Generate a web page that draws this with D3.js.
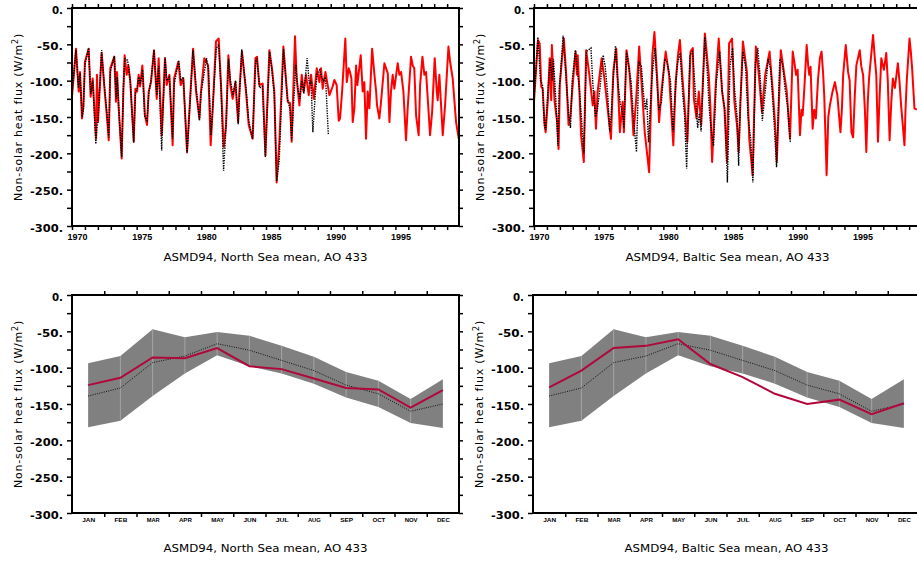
<!DOCTYPE html>
<html>
<head>
<meta charset="utf-8">
<script src="https://cdn.jsdelivr.net/npm/d3@7"></script>
<style>
body { margin: 0; background: #fff; }
</style>
</head>
<body>
<script>
// tick labels / categories
var months = ["JAN","FEB","MAR","APR","MAY","JUN","JUL","AUG","SEP","OCT","NOV","DEC"];
var yearLabels = [1970, 1975, 1980, 1985, 1990, 1995];
var fluxTicks = d3.range(0, -301, -25);

var nsRed = [
  [1970.00,-122],[1970.31,-56],[1970.52,-115],[1970.62,-88],[1970.77,-152],[1970.88,-136],[1971.00,-74],
  [1971.29,-56],[1971.44,-122],[1971.60,-97],[1971.86,-180],[1971.93,-92],[1972.01,-157],
  [1972.29,-62],[1972.53,-115],[1972.71,-152],[1972.84,-182],[1972.96,-83],
  [1973.27,-67],[1973.40,-129],[1973.48,-88],[1973.61,-138],[1973.84,-207],[1973.97,-115],
  [1974.07,-65],[1974.23,-92],[1974.36,-79],[1974.51,-102],[1974.77,-184],[1974.90,-111],
  [1975.03,-115],[1975.15,-92],[1975.26,-108],[1975.44,-79],[1975.64,-148],[1975.80,-161],[1975.93,-115],
  [1976.11,-102],[1976.34,-58],[1976.55,-125],[1976.70,-69],[1976.93,-175],
  [1977.19,-69],[1977.32,-106],[1977.53,-92],[1977.78,-189],[1977.89,-97],
  [1978.22,-74],[1978.40,-106],[1978.61,-97],[1978.89,-198],
  [1979.36,-56],[1979.59,-115],[1979.85,-152],[1979.97,-115],
  [1980.23,-69],[1980.52,-79],[1980.72,-189],[1980.88,-138],[1981.13,-46],
  [1981.34,-42],[1981.52,-106],[1981.73,-191],[1981.91,-161],
  [1982.09,-65],[1982.24,-106],[1982.42,-125],[1982.63,-102],[1982.84,-157],[1982.94,-115],
  [1983.14,-60],[1983.45,-115],[1983.66,-161],[1983.97,-180],
  [1984.18,-69],[1984.30,-67],[1984.48,-106],[1984.74,-104],[1984.95,-203],
  [1985.26,-58],[1985.46,-83],[1985.64,-115],[1985.82,-240],[1986.03,-184],
  [1986.34,-53],[1986.68,-129],[1986.86,-131],[1986.98,-184],
  [1987.24,-39],[1987.37,-97],[1987.58,-134],[1987.76,-92],[1987.91,-115],
  [1988.09,-92],[1988.30,-120],[1988.48,-92],[1988.69,-125],[1988.92,-83],
  [1989.12,-102],[1989.25,-83],[1989.38,-111],[1989.59,-88],[1989.90,-120],
  [1990.15,-108],[1990.28,-99],[1990.46,-106],[1990.62,-155],[1990.72,-152],[1990.88,-115],
  [1991.13,-42],[1991.24,-102],[1991.39,-83],[1991.49,-88],[1991.60,-97],[1991.70,-157],[1991.83,-138],[1991.96,-79],
  [1992.06,-106],[1992.32,-65],[1992.47,-115],[1992.60,-102],[1992.73,-180],[1992.86,-115],[1992.99,-138],
  [1993.20,-56],[1993.38,-92],[1993.51,-115],[1993.58,-134],[1993.76,-152],[1993.89,-129],
  [1994.15,-76],[1994.28,-83],[1994.41,-90],[1994.54,-157],[1994.66,-115],[1994.79,-92],[1994.92,-111],
  [1995.18,-76],[1995.31,-92],[1995.44,-88],[1995.62,-115],[1995.82,-182],[1995.95,-138],
  [1996.21,-67],[1996.34,-79],[1996.46,-83],[1996.60,-148],[1996.80,-175],[1996.91,-106],
  [1997.09,-67],[1997.24,-92],[1997.37,-88],[1997.68,-175],[1997.84,-143],
  [1998.04,-69],[1998.20,-115],[1998.27,-127],[1998.40,-92],[1998.66,-175],[1998.84,-134],
  [1999.10,-53],[1999.23,-74],[1999.43,-97],[1999.69,-157],[1999.90,-180]
];
var nsBlack = [
  [1970.00,-118],[1970.30,-58],[1970.50,-110],[1970.62,-90],[1970.78,-150],[1970.88,-140],[1971.00,-78],
  [1971.28,-55],[1971.45,-118],[1971.60,-100],[1971.84,-187],[1971.95,-160],[1972.02,-150],
  [1972.29,-58],[1972.52,-110],[1972.70,-145],[1972.84,-178],[1972.96,-88],
  [1973.27,-66],[1973.42,-125],[1973.50,-95],[1973.62,-140],[1973.84,-205],[1973.97,-110],
  [1974.08,-70],[1974.30,-72],[1974.50,-100],[1974.77,-185],[1974.90,-118],
  [1975.05,-110],[1975.15,-95],[1975.28,-105],[1975.45,-85],[1975.62,-150],[1975.80,-155],[1975.93,-118],
  [1976.10,-100],[1976.34,-58],[1976.55,-120],[1976.70,-80],[1976.93,-196],
  [1977.19,-68],[1977.33,-100],[1977.53,-95],[1977.78,-180],[1977.90,-105],
  [1978.25,-72],[1978.42,-100],[1978.60,-95],[1978.90,-200],
  [1979.35,-58],[1979.60,-110],[1979.85,-155],[1979.97,-118],
  [1980.40,-69],[1980.55,-85],[1980.75,-175],[1980.90,-130],[1981.15,-56],
  [1981.33,-50],[1981.52,-110],[1981.72,-224],[1981.90,-165],
  [1982.10,-70],[1982.25,-100],[1982.45,-120],[1982.65,-100],[1982.85,-160],[1982.95,-120],
  [1983.12,-57],[1983.45,-110],[1983.66,-155],[1983.95,-180],
  [1984.20,-72],[1984.30,-70],[1984.50,-110],[1984.72,-108],[1984.95,-205],
  [1985.27,-60],[1985.45,-85],[1985.64,-120],[1985.82,-238],[1986.02,-210],
  [1986.35,-56],[1986.65,-125],[1986.86,-140],[1986.98,-182],
  [1987.30,-78],[1987.45,-110],[1987.60,-125],[1987.78,-100],[1987.92,-118],
  [1988.18,-69],[1988.35,-105],[1988.48,-100],[1988.62,-171],[1988.80,-120],[1988.95,-90],
  [1989.15,-85],[1989.30,-95],[1989.45,-100],[1989.60,-95],[1989.82,-175]
];
var bsRed = [
  [1970.00,-129],[1970.31,-44],[1970.44,-49],[1970.56,-108],[1970.67,-111],[1970.82,-161],[1970.90,-171],
  [1971.08,-125],[1971.21,-69],[1971.33,-127],[1971.38,-51],[1971.59,-129],[1971.79,-157],[1971.90,-194],[1972.00,-104],
  [1972.10,-83],[1972.31,-42],[1972.49,-92],[1972.67,-161],[1972.82,-148],[1972.95,-115],
  [1973.21,-60],[1973.33,-92],[1973.38,-65],[1973.51,-115],[1973.64,-175],[1973.85,-212],
  [1974.03,-58],[1974.28,-92],[1974.54,-134],[1974.67,-115],[1974.79,-166],[1974.92,-115],
  [1975.23,-69],[1975.44,-97],[1975.69,-138],[1975.95,-180],
  [1976.13,-88],[1976.36,-56],[1976.51,-115],[1976.64,-171],[1976.85,-129],[1976.95,-171],
  [1977.15,-58],[1977.36,-83],[1977.56,-134],[1977.69,-175],[1977.90,-125],
  [1978.13,-53],[1978.26,-88],[1978.56,-171],[1978.90,-226],
  [1979.15,-65],[1979.31,-33],[1979.54,-102],[1979.67,-157],[1979.85,-115],
  [1980.18,-60],[1980.44,-92],[1980.77,-189],[1980.95,-102],
  [1981.13,-65],[1981.28,-44],[1981.46,-92],[1981.64,-134],[1981.85,-184],
  [1982.10,-60],[1982.28,-55],[1982.36,-125],[1982.56,-152],[1982.74,-115],[1982.92,-161],
  [1983.21,-35],[1983.51,-92],[1983.64,-138],[1983.77,-212],
  [1984.03,-111],[1984.28,-42],[1984.54,-115],[1984.72,-138],[1984.92,-212],
  [1985.08,-49],[1985.31,-42],[1985.49,-129],[1985.69,-161],[1985.82,-198],[1985.95,-134],
  [1986.15,-46],[1986.46,-88],[1986.64,-180],[1986.90,-230],
  [1987.15,-53],[1987.36,-88],[1987.62,-143],[1987.87,-92],
  [1988.21,-60],[1988.46,-115],[1988.64,-161],[1988.77,-212],
  [1989.08,-58],[1989.28,-83],[1989.54,-115],[1989.79,-180],
  [1990.00,-60],[1990.13,-75],[1990.26,-92],[1990.38,-85],[1990.56,-175],[1990.68,-140],[1990.77,-148],[1990.90,-110],
  [1991.08,-51],[1991.20,-80],[1991.28,-92],[1991.38,-81],[1991.54,-166],[1991.66,-140],[1991.79,-152],[1991.95,-100],
  [1992.10,-69],[1992.23,-60],[1992.35,-90],[1992.44,-122],[1992.62,-230],[1992.75,-150],[1992.87,-134],
  [1993.08,-115],[1993.26,-102],[1993.45,-120],[1993.69,-171],[1993.80,-140],[1993.90,-92],
  [1994.10,-51],[1994.28,-88],[1994.40,-100],[1994.54,-171],[1994.67,-178],[1994.80,-120],[1994.92,-79],
  [1995.18,-58],[1995.30,-80],[1995.44,-92],[1995.58,-140],[1995.69,-198],[1995.80,-130],[1995.90,-97],
  [1996.21,-37],[1996.35,-70],[1996.46,-92],[1996.59,-184],[1996.72,-120],[1996.85,-69],
  [1997.05,-85],[1997.23,-62],[1997.35,-100],[1997.49,-182],[1997.62,-130],[1997.74,-97],[1997.90,-110],
  [1998.13,-76],[1998.25,-100],[1998.38,-134],[1998.64,-189],[1998.72,-140],[1998.82,-99],
  [1999.03,-42],[1999.13,-60],[1999.23,-83],[1999.41,-138],[1999.60,-140]
];
var bsBlack = [
  [1970.00,-125],[1970.30,-40],[1970.50,-100],[1970.65,-105],[1970.80,-160],[1970.90,-168],
  [1971.05,-120],[1971.25,-70],[1971.40,-100],[1971.50,-70],[1971.70,-130],[1971.85,-190],[1971.95,-110],
  [1972.05,-90],[1972.25,-38],[1972.45,-90],[1972.70,-150],[1972.82,-165],[1972.95,-100],
  [1973.20,-58],[1973.35,-85],[1973.50,-110],[1973.70,-160],[1973.85,-200],[1973.95,-130],
  [1974.05,-60],[1974.40,-55],[1974.55,-105],[1974.75,-150],[1974.90,-140],
  [1975.10,-110],[1975.35,-65],[1975.50,-80],[1975.70,-120],[1975.85,-170],[1975.95,-150],
  [1976.12,-100],[1976.30,-52],[1976.45,-95],[1976.65,-130],[1976.85,-145],[1976.95,-165],
  [1977.15,-60],[1977.35,-85],[1977.50,-100],[1977.75,-165],[1977.92,-198],
  [1978.12,-75],[1978.30,-80],[1978.45,-115],[1978.60,-140],[1978.72,-125],[1978.85,-185],
  [1979.10,-100],[1979.35,-55],[1979.50,-100],[1979.65,-140],[1979.85,-130],
  [1980.10,-70],[1980.30,-75],[1980.55,-100],[1980.75,-170],[1980.90,-120],
  [1981.10,-75],[1981.30,-62],[1981.50,-120],[1981.65,-150],[1981.80,-221],
  [1982.05,-65],[1982.25,-60],[1982.45,-110],[1982.65,-165],[1982.78,-145],[1982.92,-170],
  [1983.20,-40],[1983.40,-90],[1983.55,-140],[1983.75,-175],[1983.88,-190],
  [1984.10,-100],[1984.35,-60],[1984.55,-115],[1984.75,-140],[1984.95,-240],
  [1985.15,-80],[1985.35,-55],[1985.50,-110],[1985.70,-150],[1985.82,-217],[1985.95,-130],
  [1986.15,-60],[1986.35,-80],[1986.55,-150],[1986.75,-180],[1986.92,-240],
  [1987.12,-75],[1987.30,-55],[1987.50,-100],[1987.65,-155],[1987.85,-120],
  [1988.10,-70],[1988.30,-85],[1988.45,-125],[1988.62,-175],[1988.75,-219],
  [1989.00,-70],[1989.20,-75],[1989.40,-110],[1989.60,-135],[1989.82,-185]
];

// monthly climatology (bottom panels)
var bandHi = [-94, -84, -47, -58, -51, -56, -70, -85, -106, -118, -143, -116];
var bandLo = [-182, -173, -139, -108, -83, -98, -108, -122, -141, -154, -176, -183];
var climMean = [-139, -128, -93, -84, -67, -76, -90, -104, -124, -136, -160, -150];
var nsClim = [-124, -114, -86, -87, -73, -98, -102, -115, -128, -130, -155, -131];
var bsClim = [-127, -104, -73, -70, -61, -95, -113, -136, -150, -144, -164, -149];

var W = 917, H = 562, pw = 387, ph = 218;

var svg = d3.select("body").append("svg")
    .attr("width", W)
    .attr("height", H)
    .style("display", "block");

// widths of the plotter's glyphs, so labels keep the wide look whatever font is found
function glyphLen(s) {
  var n = 0;
  String(s).split("").forEach(function(c) {
    n += c === "-" ? 8 : c === "." ? 4 : 7;
  });
  return n;
}

function styleAxis(g) {
  g.select(".domain").remove();
  g.selectAll(".tick line").attr("stroke", "#000").attr("stroke-width", 1.5);
}

function yAxes(g, x0, y) {
  g.append("g")
      .attr("transform", "translate(" + x0 + ",0)")
      .call(d3.axisLeft(y).tickValues(fluxTicks).tickSize(5).tickPadding(4)
        .tickFormat(function(d) { return d % 50 === 0 ? String(d) + "." : ""; }))
      .call(styleAxis)
      .selectAll("text")
      .attr("dy", "0.5em")
      .attr("textLength", function() { return glyphLen(this.textContent) || null; })
      .attr("lengthAdjust", "spacingAndGlyphs")
      .style("font-family", "'DejaVu Sans', sans-serif")
      .style("font-weight", "bold")
      .style("font-size", "10px")
      .attr("fill", "#000");

  g.append("g")
      .attr("transform", "translate(" + (x0 + pw) + ",0)")
      .call(d3.axisRight(y).tickValues(fluxTicks).tickSize(4).tickFormat(""))
      .call(styleAxis);
}

function yTitle(g, cx, cy) {
  var t = g.append("text")
      .attr("transform", "translate(" + cx + "," + cy + ") rotate(-90)")
      .attr("text-anchor", "middle")
      .attr("dy", "0.35em")
      .style("font-family", "'DejaVu Sans', sans-serif")
      .style("font-size", "11px")
      .style("letter-spacing", "0.8px");
  t.append("tspan").text("Non-solar heat flux (W/m");
  t.append("tspan").attr("baseline-shift", "super").style("font-size", "8px").text("2");
  t.append("tspan").text(")");
}

function caption(g, cx, by, txt) {
  g.append("text")
      .attr("x", cx).attr("y", by)
      .attr("text-anchor", "middle")
      .attr("textLength", 204)
      .attr("lengthAdjust", "spacingAndGlyphs")
      .style("font-family", "'DejaVu Sans', sans-serif")
      .style("font-size", "11px")
      .text(txt);
}

function frame(g, x0, y0) {
  g.append("rect")
      .attr("x", x0).attr("y", y0)
      .attr("width", pw).attr("height", ph)
      .attr("fill", "none")
      .attr("stroke", "#000")
      .attr("stroke-width", 2);
}

// ---------- top panels: time series ----------
function timePanel(id, x0, y0, red, black, label) {
  var g = svg.append("g");
  var x = d3.scaleLinear().domain([1970, 1999.917]).range([x0, x0 + pw]);
  var y = d3.scaleLinear().domain([0, -300]).range([y0, y0 + ph]);

  g.append("clipPath").attr("id", id)
    .append("rect").attr("x", x0).attr("y", y0).attr("width", pw).attr("height", ph);

  var line = d3.line()
      .x(function(d) { return x(d[0]); })
      .y(function(d) { return y(d[1]); });

  var plot = g.append("g").attr("clip-path", "url(#" + id + ")");
  plot.append("path")
      .datum(red)
      .attr("d", line)
      .attr("fill", "none")
      .attr("stroke", "#ff0000")
      .attr("stroke-width", 2)
      .attr("stroke-linejoin", "round");
  plot.append("path")
      .datum(black)
      .attr("d", line)
      .attr("fill", "none")
      .attr("stroke", "#000")
      .attr("stroke-width", 1.4)
      .attr("stroke-dasharray", "1.4,1.1");

  var years = d3.range(1970, 2000);
  g.append("g")
      .attr("transform", "translate(0," + (y0 + ph) + ")")
      .call(d3.axisBottom(x).tickValues(years).tickSize(4).tickPadding(3)
        .tickFormat(function(d) { return yearLabels.indexOf(d) >= 0 ? d : ""; }))
      .call(styleAxis)
      .selectAll("text")
      .attr("dx", 5)
      .attr("textLength", function() { return this.textContent ? 20 : null; })
      .attr("lengthAdjust", "spacingAndGlyphs")
      .style("font-family", "'Liberation Sans', sans-serif")
      .style("font-weight", "bold")
      .style("font-size", "9.5px")
      .attr("fill", "#000");
  g.append("g")
      .attr("transform", "translate(0," + y0 + ")")
      .call(d3.axisTop(x).tickValues(years).tickSize(4).tickFormat(""))
      .call(styleAxis);

  yAxes(g, x0, y);
  frame(g, x0, y0);
  yTitle(g, x0 - 54, y0 + ph / 2);
  caption(g, x0 + pw / 2, 261, label);
}

// ---------- bottom panels: monthly climatology ----------
function monthPanel(x0, y0, red, label) {
  var g = svg.append("g");
  var xp = d3.scalePoint().domain(months).range([x0, x0 + pw]).padding(0.5);
  var xb = d3.scaleLinear().domain([0, 12]).range([x0, x0 + pw]);
  var y = d3.scaleLinear().domain([0, -300]).range([y0, y0 + ph]);

  var rows = months.map(function(m, i) {
    return { m: m, hi: bandHi[i], lo: bandLo[i], mean: climMean[i], red: red[i] };
  });

  g.append("path")
      .datum(rows)
      .attr("d", d3.area()
        .x(function(d) { return xp(d.m); })
        .y0(function(d) { return y(d.lo); })
        .y1(function(d) { return y(d.hi); }))
      .attr("fill", "#808080");

  g.selectAll(".sep")
      .data(rows.slice(1, 11))
      .enter().append("line")
      .attr("x1", function(d) { return xp(d.m); })
      .attr("x2", function(d) { return xp(d.m); })
      .attr("y1", function(d) { return y(d.hi); })
      .attr("y2", function(d) { return y(d.lo); })
      .attr("stroke", "#a4a4a4")
      .attr("stroke-width", 1);

  g.append("path")
      .datum(rows)
      .attr("d", d3.line()
        .x(function(d) { return xp(d.m); })
        .y(function(d) { return y(d.mean); }))
      .attr("fill", "none")
      .attr("stroke", "#111")
      .attr("stroke-width", 1)
      .attr("stroke-dasharray", "1,1.3");

  g.append("path")
      .datum(rows)
      .attr("d", d3.line()
        .x(function(d) { return xp(d.m); })
        .y(function(d) { return y(d.red); }))
      .attr("fill", "none")
      .attr("stroke", "#b0083a")
      .attr("stroke-width", 2);

  var bounds = d3.range(1, 12);
  g.append("g")
      .attr("transform", "translate(0," + (y0 + ph) + ")")
      .call(d3.axisBottom(xb).tickValues(bounds).tickSize(4).tickFormat(""))
      .call(styleAxis);
  g.append("g")
      .attr("transform", "translate(0," + (y0 + ph) + ")")
      .call(d3.axisBottom(xp).tickSize(0).tickPadding(5))
      .call(function(a) { a.select(".domain").remove(); })
      .selectAll("text")
      .attr("textLength", 13)
      .attr("lengthAdjust", "spacingAndGlyphs")
      .style("font-family", "'Liberation Sans', sans-serif")
      .style("font-weight", "bold")
      .style("font-size", "6px")
      .attr("fill", "#000");
  g.append("g")
      .attr("transform", "translate(0," + y0 + ")")
      .call(d3.axisTop(xb).tickValues(bounds).tickSize(4).tickFormat(""))
      .call(styleAxis);

  yAxes(g, x0, y);
  frame(g, x0, y0);
  yTitle(g, x0 - 54, y0 + ph / 2);
  caption(g, x0 + pw / 2, 552, label);
}

timePanel("clipNS", 72, 8, nsRed, nsBlack, "ASMD94, North Sea mean, AO 433");
timePanel("clipBS", 534, 8, bsRed, bsBlack, "ASMD94, Baltic Sea mean, AO 433");
monthPanel(72, 295, nsClim, "ASMD94, North Sea mean, AO 433");
monthPanel(533, 295, bsClim, "ASMD94, Baltic Sea mean, AO 433");
</script>
</body>
</html>
